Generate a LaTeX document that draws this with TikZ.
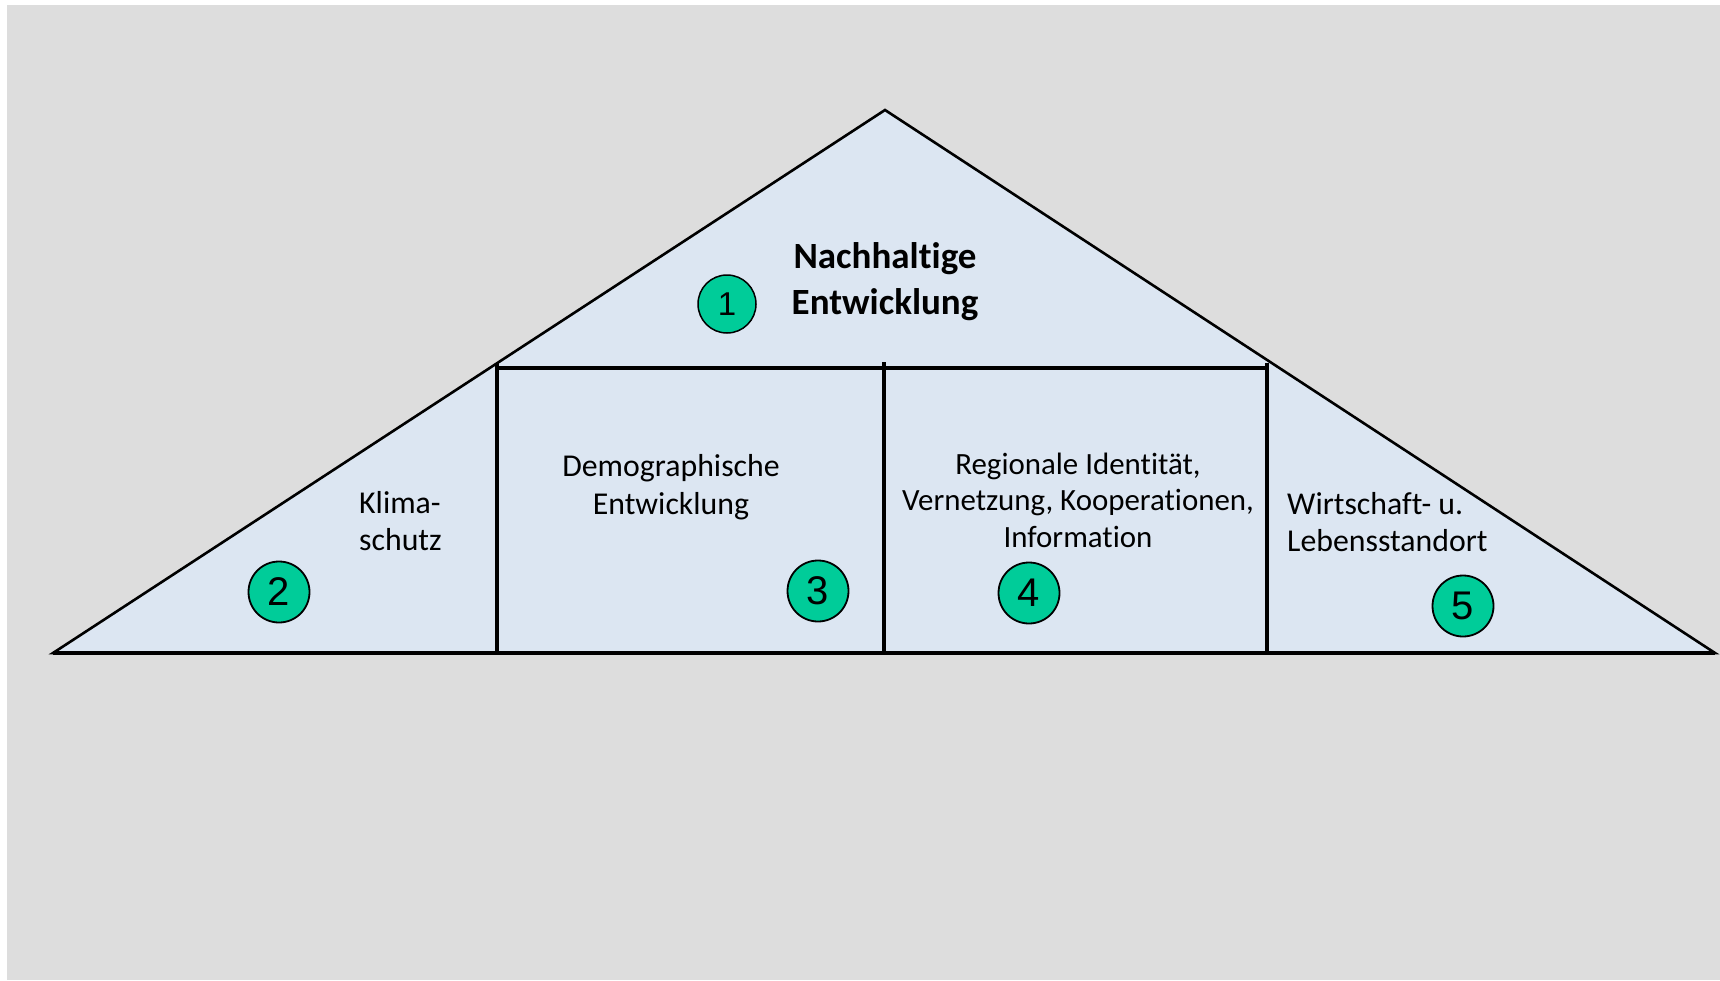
\documentclass[tikz,border=0pt]{standalone}
\usepackage{fontspec}
\setmainfont{Carlito}[Ligatures=NoCommon]
\newfontfamily\digitfont{Liberation Sans}
\definecolor{bggray}{HTML}{DDDDDD}
\definecolor{roof}{HTML}{DCE6F2}
\definecolor{badgegreen}{HTML}{00CC99}
\tikzset{
  frameline/.style={draw=black, line width=2.6pt},
  innerline/.style={draw=black, line width=3.2pt},
  badge/.style={circle, fill=badgegreen, draw=black, line width=1.8pt, minimum size=61pt, inner sep=0pt, font=\digitfont\fontsize{40}{40}\selectfont},
  badgeone/.style={badge, minimum size=58pt, line width=1.5pt, font=\digitfont\fontsize{33}{33}\selectfont},
  txt/.style={inner sep=0pt, align=center, font=\fontsize{31.8}{37.5}\selectfont},
  smalltxt/.style={txt, font=\fontsize{30.9}{36.5}\selectfont},
  titletxt/.style={inner sep=0pt, align=center, font=\bfseries\fontsize{37}{46}\selectfont}
}
\begin{document}
\begin{tikzpicture}[x=1pt,y=-1pt]
\fill[white] (0,0) rectangle (1720,980);
\useasboundingbox (0,0) rectangle (1720,980);
\fill[bggray] (7,5) rectangle (1720,980);
% corner points
\coordinate (apex) at (885,110);
\coordinate (bl) at (53,653);
\coordinate (br) at (1715,653);
\coordinate (hl) at (497,368);
\coordinate (hr) at (1269,368);
\coordinate (vlt) at (497,363);
\coordinate (vlb) at (497,653);
\coordinate (vmt) at (884,362);
\coordinate (vmb) at (884,653);
\coordinate (vrt) at (1267,363);
\coordinate (vrb) at (1267,653);
% roof
\filldraw[fill=roof, frameline, line join=miter] (bl) -- (apex) -- (br) -- cycle;
\draw[innerline] (hl) -- (hr);
\draw[innerline] (vlt) -- (vlb);
\draw[innerline] (vmt) -- (vmb);
\draw[innerline] (vrt) -- (vrb);
\draw[innerline] (bl) -- (br);
% texts
\node[titletxt] (t1) at (885,282) {Nachhaltige\\Entwicklung};
\node[txt, align=left, anchor=west] (t2) at (359,521) {Klima-\\schutz};
\node[txt] (t3) at (671,487) {Demographische\\Entwicklung};
\node[smalltxt] (t4) at (1078,500) {Regionale Identität,\\Vernetzung, Kooperationen,\\Information};
\node[txt, align=left, anchor=west] (t5) at (1287,522) {Wirtschaft- u.\\Lebensstandort};
% badges
\node[badgeone] (b1) at (727,304) {1};
\node[badge] (b2) at (279,592) {2};
\node[badge] (b3) at (818,591) {3};
\node[badge] (b4) at (1029,593) {4};
\node[badge] (b5) at (1463,606) {5};
\end{tikzpicture}
\end{document}
